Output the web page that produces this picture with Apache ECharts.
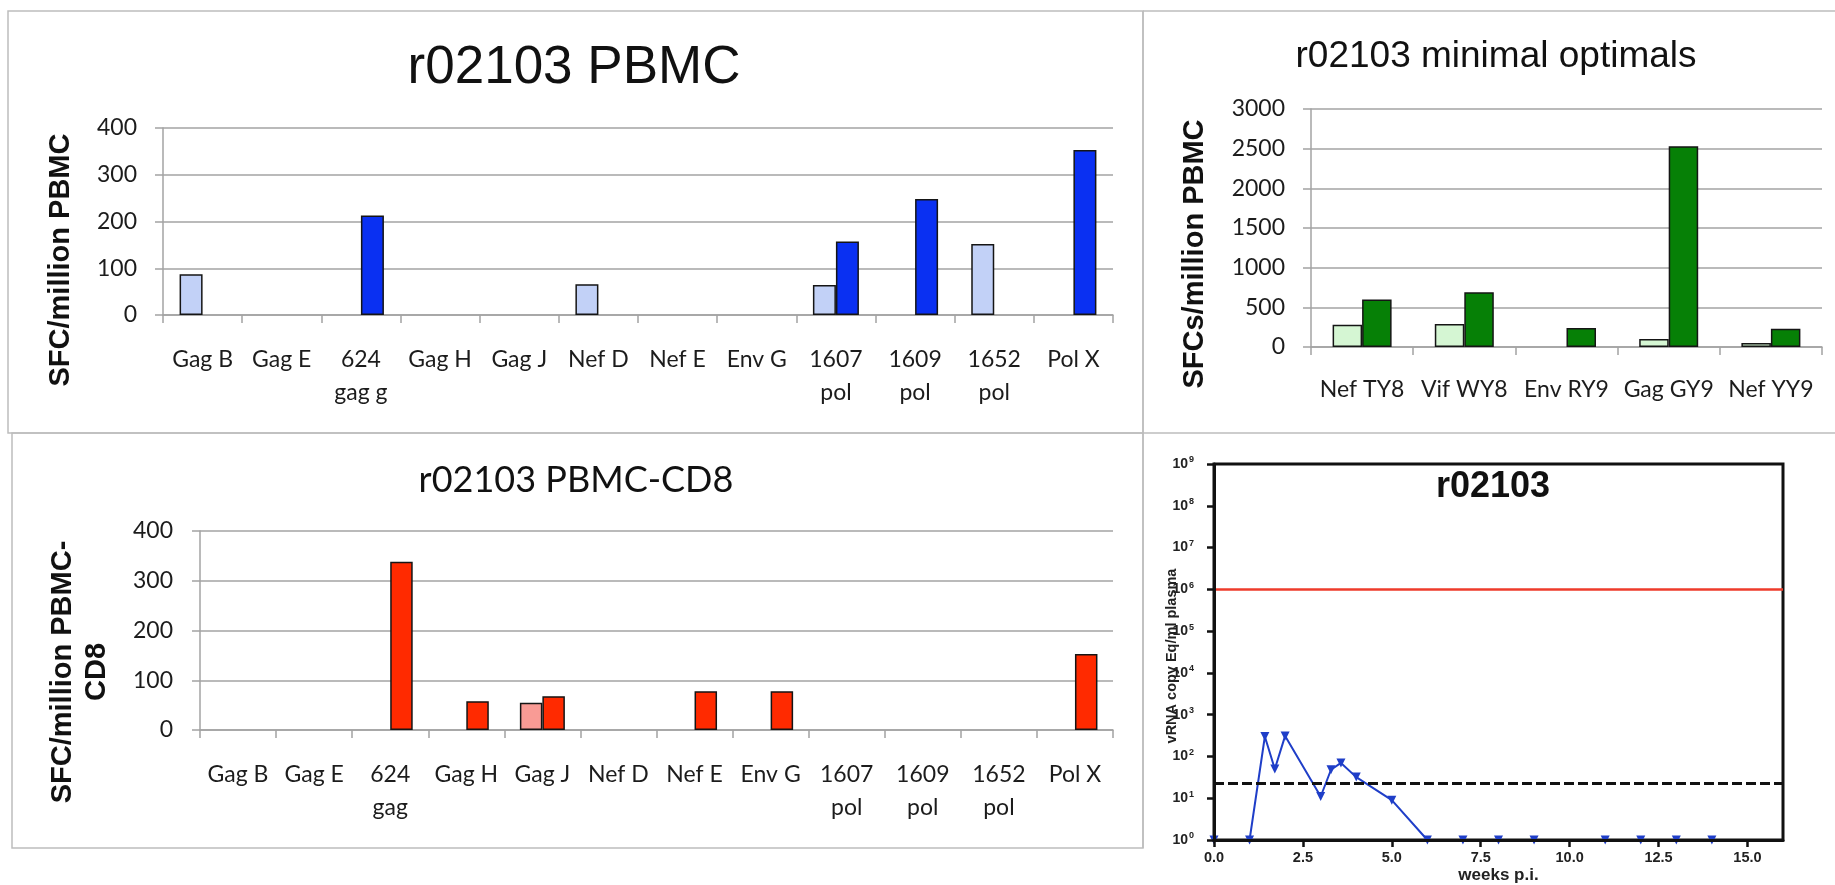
<!DOCTYPE html>
<html>
<head>
<meta charset="utf-8">
<script src="https://cdn.jsdelivr.net/npm/echarts@6/dist/echarts.min.js"></script>
<style>
  html, body { margin: 0; padding: 0; background: #ffffff; }
  #chart { width: 1835px; height: 885px; }
</style>
</head>
<body>
<div id="chart"></div>
<script>
// ---- ELISPOT responses, whole PBMC ----
const pbmcCategories = ['Gag B', 'Gag E', '624\ngag g', 'Gag H', 'Gag J', 'Nef D', 'Nef E', 'Env G', '1607\npol', '1609\npol', '1652\npol', 'Pol X'];
const pbmcLight = [87, null, null, null, null, 66, null, null, 64, null, 152, null];
const pbmcDark = [null, null, 213, null, null, null, null, null, 157, 248, null, 353];
const pbmcTicks = { max: 400, step: 100 };

// ---- Minimal optimal epitopes ----
const optimalCategories = ['Nef TY8', 'Vif WY8', 'Env RY9', 'Gag GY9', 'Nef YY9'];
const optimalLight = [280, 290, null, 100, 50];
const optimalDark = [600, 690, 240, 2530, 230];
const optimalTicks = { max: 3000, step: 500 };

// ---- CD8-depleted PBMC ----
const cd8Categories = ['Gag B', 'Gag E', '624\ngag', 'Gag H', 'Gag J', 'Nef D', 'Nef E', 'Env G', '1607\npol', '1609\npol', '1652\npol', 'Pol X'];
const cd8Light = [null, null, null, null, 55, null, null, null, null, null, null, null];
const cd8Dark = [null, null, 338, 58, 68, null, 78, 78, null, null, null, 153];
const cd8Ticks = { max: 400, step: 100 };

// ---- Plasma viral load (copy Eq/ml) by week post infection ----
const loadWeeks = [0, 1, 1.43, 1.71, 2, 3, 3.29, 3.57, 4, 5, 6, 7, 8, 9, 11, 12, 13, 14];
const loadCopies = [1, 1, 300, 50, 310, 11, 48, 70, 32, 9, 1, 1, 1, 1, 1, 1, 1, 1];
const loadThreshold = 1e6;
const detectionLimit = 23;
const weekTicks = [0, 2.5, 5, 7.5, 10, 12.5, 15];

const LATO = 'Lato, "Open Sans", sans-serif';
const ARIAL = '"Liberation Sans", Arial, sans-serif';
const NARROW = '"Liberation Sans Narrow", "Liberation Sans", Arial, sans-serif';
const GRAY = '#a3a3a3';
const INK = '#1c1c1c';

function categoryAxis(gridIndex, data, margin) {
  return {
    type: 'category', gridIndex, data,
    axisLine: { lineStyle: { color: GRAY, width: 1.5 } },
    axisTick: { show: true, interval: 0, length: 8, lineStyle: { color: GRAY, width: 1.5 } },
    axisLabel: { interval: 0, margin, color: INK, fontFamily: LATO, fontSize: 23, lineHeight: 33 }
  };
}

function valueAxis(gridIndex, ticks, margin) {
  return {
    type: 'value', gridIndex, min: 0, max: ticks.max, interval: ticks.step,
    axisLine: { show: true, lineStyle: { color: GRAY, width: 1.5 } },
    axisTick: { show: true, length: 8, lineStyle: { color: GRAY, width: 1.5 } },
    splitLine: { lineStyle: { color: GRAY, width: 1.5 } },
    axisLabel: { margin, color: INK, fontFamily: LATO, fontSize: 23, formatter: v => String(v) }
  };
}

function barSeries(index, data, color, width) {
  return {
    type: 'bar', xAxisIndex: index, yAxisIndex: index, data,
    barWidth: width, barGap: '0%',
    itemStyle: { color, borderColor: '#151515', borderWidth: 1.5 }
  };
}

function text(x, y, str, size, family, weight, rotation, extra) {
  return {
    type: 'text', x, y, rotation: rotation || 0, silent: true,
    style: Object.assign({
      text: str, fontSize: size, fontFamily: family, fontWeight: weight || 'normal',
      fill: '#111', align: 'center', verticalAlign: 'middle'
    }, extra || {})
  };
}

const PANEL = { stroke: '#bdbdbd', lineWidth: 1.5, fill: null };

const option = {
  animation: false,
  backgroundColor: '#ffffff',
  grid: [
    { left: 163, top: 128, width: 950, height: 187 },
    { left: 1311, top: 109, width: 511, height: 238 },
    { left: 200, top: 531, width: 913, height: 199 },
    { left: 1214, top: 464, width: 569, height: 378, show: true, borderColor: '#111', borderWidth: 3 }
  ],
  xAxis: [
    categoryAxis(0, pbmcCategories, 28),
    categoryAxis(1, optimalCategories, 26),
    categoryAxis(2, cd8Categories, 28),
    {
      type: 'value', gridIndex: 3, min: 0, max: 16, z: 5,
      axisLine: { onZero: false, lineStyle: { color: '#111', width: 3 } },
      axisTick: { customValues: weekTicks, length: 7, lineStyle: { color: '#111', width: 2.5 } },
      axisLabel: {
        customValues: weekTicks, formatter: v => v.toFixed(1), margin: 10,
        color: '#222', fontFamily: NARROW, fontWeight: 'bold', fontSize: 14.5
      },
      splitLine: { show: false },
      name: 'weeks p.i.', nameLocation: 'middle', nameGap: 27,
      nameTextStyle: { color: '#222', fontFamily: NARROW, fontWeight: 'bold', fontSize: 17 }
    }
  ],
  yAxis: [
    valueAxis(0, pbmcTicks, 26),
    valueAxis(1, optimalTicks, 26),
    valueAxis(2, cd8Ticks, 27),
    {
      type: 'log', gridIndex: 3, logBase: 10, min: 1, max: 1e9, splitNumber: 9, z: 5,
      axisLine: { lineStyle: { color: '#111', width: 3 } },
      axisTick: { length: 7, lineStyle: { color: '#111', width: 2.5 } },
      splitLine: { show: false },
      axisLabel: {
        margin: 20,
        formatter: v => '{a|10}{b|' + Math.round(Math.log10(v)) + '}',
        rich: {
          a: { fontFamily: NARROW, fontWeight: 'bold', fontSize: 14, color: '#222', lineHeight: 17 },
          b: { fontFamily: NARROW, fontWeight: 'bold', fontSize: 9, color: '#222', lineHeight: 17, verticalAlign: 'top', padding: [0, 0, 7, 1] }
        }
      }
    }
  ],
  series: [
    barSeries(0, pbmcLight, '#c2d1f7', 23),
    barSeries(0, pbmcDark, '#0a30f2', 23),
    barSeries(1, optimalLight, '#d5f6d3', 29.5),
    barSeries(1, optimalDark, '#068006', 29.5),
    barSeries(2, cd8Light, '#f99b95', 22.5),
    barSeries(2, cd8Dark, '#ff2a00', 22.5),
    {
      type: 'line', xAxisIndex: 3, yAxisIndex: 3, z: 2,
      data: loadWeeks.map((w, i) => [w, loadCopies[i]]),
      symbol: 'triangle', symbolRotate: 180, symbolSize: 9,
      lineStyle: { color: '#1f3ec8', width: 2 },
      itemStyle: { color: '#1f3ec8' },
      markLine: {
        silent: true, symbol: 'none', label: { show: false },
        data: [
          { yAxis: loadThreshold, lineStyle: { color: '#ee3b2b', width: 2.5, type: 'solid' } },
          { yAxis: detectionLimit, lineStyle: { color: '#111', width: 3, type: [10, 4] } }
        ]
      }
    }
  ],
  graphic: [
    // panel frames
    { type: 'rect', silent: true, shape: { x: 8, y: 11, width: 1135, height: 422 }, style: PANEL },
    { type: 'rect', silent: true, shape: { x: 12, y: 433, width: 1131, height: 415 }, style: PANEL },
    { type: 'line', silent: true, shape: { x1: 1143, y1: 11, x2: 1835, y2: 11 }, style: PANEL },
    { type: 'line', silent: true, shape: { x1: 1143, y1: 433, x2: 1835, y2: 433 }, style: PANEL },
    { type: 'line', silent: true, shape: { x1: 1143, y1: 11, x2: 1143, y2: 848 }, style: PANEL },
    // chart titles
    text(574, 68, 'r02103 PBMC', 53, ARIAL),
    text(1496, 57, 'r02103 minimal optimals', 37, ARIAL),
    text(576, 480, 'r02103 PBMC-CD8', 36, LATO),
    text(1493, 487, 'r02103', 36, NARROW, 'bold'),
    // value axis titles
    text(61, 260, 'SFC/million PBMC', 29, ARIAL, 'bold', Math.PI / 2),
    text(1195, 254, 'SFCs/million PBMC', 29, ARIAL, 'bold', Math.PI / 2),
    text(80, 672, 'SFC/million PBMC-\nCD8', 29, ARIAL, 'bold', Math.PI / 2, { lineHeight: 34 }),
    text(1172, 656, 'vRNA copy Eq/ml plasma', 14.5, ARIAL, 'bold', Math.PI / 2, { fill: '#222' })
  ]
};

const chart = echarts.init(document.getElementById('chart'), null, { renderer: 'canvas', width: 1835, height: 885 });
chart.setOption(option);
</script>
</body>
</html>
